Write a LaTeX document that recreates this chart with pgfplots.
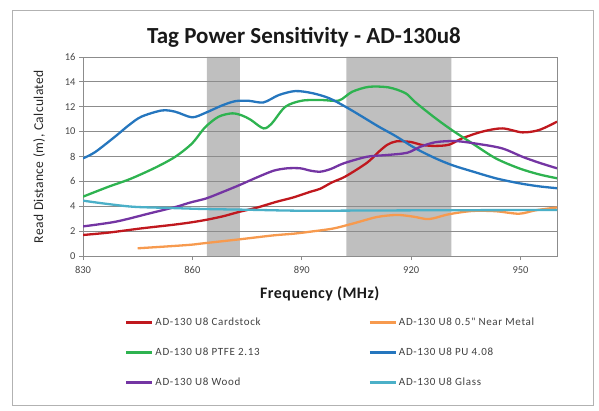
\documentclass[border=0pt]{standalone}
\usepackage{pgfplots}
\pgfplotsset{compat=1.18}
\usepackage{fontspec}
\setmainfont{Carlito}
\newfontfamily\spacedfont[LetterSpace=6]{Carlito}
\newfontfamily\xlabfont[LetterSpace=3]{Carlito}
\newfontfamily\ylabfont[LetterSpace=3]{Carlito}
\definecolor{cRed}{HTML}{C0181E}
\definecolor{cOrange}{HTML}{F79A4E}
\definecolor{cGreen}{HTML}{2EB350}
\definecolor{cBlue}{HTML}{2576BE}
\definecolor{cPurple}{HTML}{7435A3}
\definecolor{cCyan}{HTML}{4BB0C8}
\definecolor{band}{HTML}{BFBFBF}
\definecolor{gridc}{HTML}{8C8C8C}
\begin{document}
\begin{tikzpicture}
\begin{axis}[
  set layers,
  at={(83pt,154pt)}, anchor=south west,
  scale only axis, width=474pt, height=199pt,
  xmin=830, xmax=960, ymin=0, ymax=16,
  xtick={830,860,890,920,950}, ytick={0,2,...,16},
  ymajorgrids, grid style={gridc, line width=0.8pt},
  axis line style={gridc, line width=0.8pt},
  tick style={gridc, line width=0.8pt},
  tick align=outside, tick pos=left, major tick length=4pt,
  ticklabel style={font=\fontsize{10.5}{12}\selectfont, text=black!72},
  xticklabel style={yshift=-3pt},
  /pgf/number format/assume math mode=true,
  xlabel={\textbf{Frequency (MHz)}},
  xlabel style={font=\xlabfont\fontsize{16}{18}\selectfont, text=black!90, yshift=-6pt},
  ylabel={Read Distance (m), Calculated},
  ylabel style={font=\ylabfont\fontsize{13.5}{15}\selectfont, text=black!85},
  ylabel shift=13pt,
  legend columns=2,
  legend style={draw=none, fill=none, inner sep=0pt,
    at={(0.0886,-0.30)}, anchor=north west,
    font=\spacedfont\fontsize{11}{12}\selectfont, text=black!75,
    cells={anchor=west}, row sep=17pt,
    /tikz/every even column/.append style={column sep=106pt}},
  legend image code/.code={\draw[#1] (0pt,0pt) -- (26pt,0pt);},
]
\addplot[fill=band, draw=none, on layer=axis background, forget plot] coordinates {(864,0) (864,16) (873,16) (873,0)} \closedcycle;
\addplot[fill=band, draw=none, on layer=axis background, forget plot] coordinates {(902.2,0) (902.2,16) (931,16) (931,0)} \closedcycle;

\addplot[cRed, line width=2.3pt, smooth, tension=0.5] coordinates {
(830,1.69) (837,1.88) (846,2.22) (855,2.52) (860,2.72) (864,2.92) (868.5,3.2) (873,3.56) (877.7,3.89) (883.2,4.37) (887.8,4.72) (892.4,5.17) (895,5.4) (898.3,5.92) (902,6.4) (907.9,7.5) (911,8.35) (913.5,8.95) (916,9.22) (919.8,9.17) (923,8.93) (926.5,8.85) (930.4,8.95) (934,9.46) (939.5,10.0) (945,10.26) (950.5,9.94) (955.1,10.13) (960,10.8)};
\addlegendentry{AD-130 U8 Cardstock}

\addplot[cOrange, line width=2.3pt, smooth, tension=0.5] coordinates {
(845,0.62) (852,0.75) (859.4,0.9) (863,1.02) (872.9,1.34) (882.3,1.66) (888,1.8) (893,1.98) (898.8,2.22) (904.3,2.63) (910.7,3.14) (916.2,3.3) (920.7,3.16) (924.9,2.97) (930.4,3.36) (936.8,3.62) (943.2,3.6) (949.6,3.4) (954.2,3.68) (960,3.9)};
\addlegendentry{AD-130 U8 0.5" Near Metal}

\addplot[cGreen, line width=2.3pt, smooth, tension=0.5] coordinates {
(830,4.77) (837,5.57) (843,6.2) (849.8,7.1) (855.3,7.98) (859.9,9.05) (863.5,10.35) (867.2,11.2) (870.9,11.47) (873.6,11.3) (876,10.95) (879.5,10.26) (881.8,10.67) (885.5,12.0) (890.1,12.49) (895.6,12.54) (900.2,12.5) (903.8,13.2) (908.4,13.6) (913.9,13.55) (918.5,13.08) (921.2,12.35) (926.7,11.07) (931.3,10.1) (936.8,9.05) (943.2,7.85) (949.6,7.05) (955.1,6.56) (960,6.25)};
\addlegendentry{AD-130 U8 PTFE 2.13}

\addplot[cBlue, line width=2.3pt, smooth, tension=0.5] coordinates {
(830,7.85) (833.3,8.35) (838.8,9.6) (842.5,10.5) (846,11.2) (851.6,11.7) (855.3,11.6) (859.9,11.15) (863.5,11.5) (868.1,12.1) (871.8,12.45) (875.4,12.48) (879.5,12.35) (883.7,12.94) (888.2,13.26) (892.8,13.1) (897.4,12.7) (902,12.0) (906.6,11.2) (911.1,10.4) (915.7,9.65) (921.2,8.65) (926.7,7.85) (931.3,7.3) (936.8,6.8) (943.2,6.25) (949.6,5.85) (955.1,5.6) (960,5.45)};
\addlegendentry{AD-130 U8 PU 4.08}

\addplot[cPurple, line width=2.3pt, smooth, tension=0.5] coordinates {
(830,2.38) (839,2.76) (848.3,3.43) (855.6,3.96) (859.4,4.3) (863.8,4.63) (868.5,5.17) (872.9,5.7) (877.7,6.32) (882.3,6.86) (886,7.05) (889.6,7.05) (892.4,6.86) (895.1,6.78) (898,7.0) (901.5,7.45) (907.9,7.98) (913.4,8.12) (918.9,8.3) (922.6,8.79) (926.7,9.15) (932.2,9.24) (938.6,9.0) (945,8.65) (950.5,7.98) (955.1,7.5) (960,7.05)};
\addlegendentry{AD-130 U8 Wood}

\addplot[cCyan, line width=2.3pt, smooth, tension=0.5] coordinates {
(830,4.45) (835.5,4.23) (843.7,3.96) (852.9,3.87) (863,3.78) (875,3.72) (890,3.64) (910,3.66) (930,3.68) (960,3.7)};
\addlegendentry{AD-130 U8 Glass}
\end{axis}
\draw[gray!60, line width=0.8pt] (12pt,5pt) rectangle (593pt,400pt);
\path (0pt,0pt) rectangle (599pt,410pt);
\node[font=\fontsize{23}{27}\selectfont\bfseries, text=black!90] at (304pt,373pt) {Tag Power Sensitivity - AD-130u8};
\end{tikzpicture}
\end{document}
